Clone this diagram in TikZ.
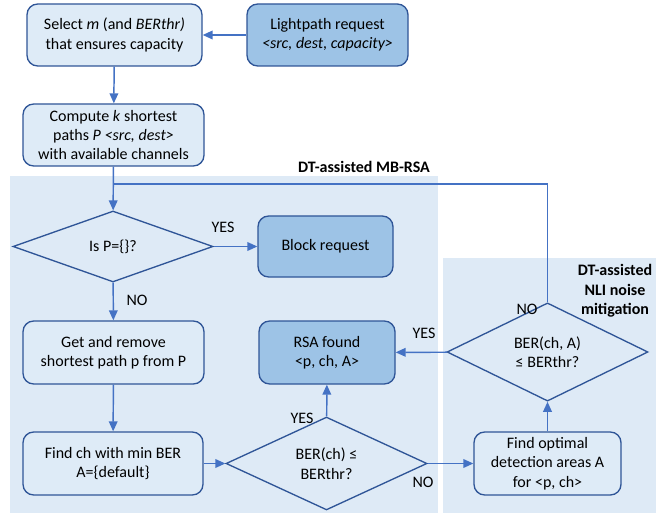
\documentclass[tikz,border=0pt]{standalone}
\usepackage{fontspec}
\setmainfont{Carlito}
\usetikzlibrary{shapes.geometric,arrows.meta}
\definecolor{bord}{HTML}{2F5597}
\definecolor{lfill}{HTML}{DEEBF7}
\definecolor{dfill}{HTML}{9DC3E6}
\definecolor{arr}{HTML}{4472C4}
\definecolor{bgc}{HTML}{DEEAF6}
\begin{document}
\begin{tikzpicture}[x=0.75pt,y=-0.75pt,
  font=\fontsize{12}{14.6}\selectfont,
  lbox/.style={draw=bord,fill=lfill,line width=1pt,rounded corners=8pt,align=center,inner sep=0pt},
  dbox/.style={lbox,fill=dfill},
  dia/.style={draw=bord,diamond,line width=1pt,inner sep=0pt,align=center},
  conn/.style={draw=arr,line width=1.1pt,-{Triangle[length=7.5pt,width=6.5pt]}},
  line/.style={draw=arr,line width=1.1pt},
  lab/.style={inner sep=0pt}]
\useasboundingbox (0,0) rectangle (656,513);
% background regions
\fill[bgc] (10,176) rectangle (438,513);
\fill[bgc] (443,258) rectangle (656,513);
\node[lab,font=\fontsize{12}{14.6}\selectfont\bfseries] (t1) at (364,167) {DT-assisted MB-RSA};
\node[lab,align=center,font=\fontsize{12}{14.6}\selectfont\bfseries] (t2) at (615,291) {DT-assisted\\NLI noise\\mitigation};
% nodes
\node[lbox,minimum width=131.25pt,minimum height=46.5pt] (sel) at (114.5,35) {Select \textit{m} (and \textit{BERthr)}\\that ensures capacity};
\node[dbox,minimum width=120.75pt,minimum height=46.5pt] (req) at (327.5,35) {Lightpath request\\\textit{<src, dest, capacity>}};
\node[lbox,minimum width=135.75pt,minimum height=46.5pt] (comp) at (113.5,135) {Compute \textit{k} shortest\\paths \textit{P <src, dest>}\\with available channels};
\node[dia,minimum width=150pt,minimum height=53.25pt] (d1) at (113,246.5) {Is P=\{\}?};
\node[dbox,minimum width=101.25pt,minimum height=45.75pt] (block) at (325.5,246.5) {Block request};
\node[lbox,minimum width=135.75pt,minimum height=47.25pt] (getp) at (113.5,352.5) {Get and remove\\shortest path p from P};
\node[dbox,minimum width=102pt,minimum height=47.25pt] (rsa) at (327,352.5) {RSA found\\<p, ch, A>};
\node[dia,minimum width=150.75pt,minimum height=52.5pt] (d2) at (547.5,352) {BER(ch, A)\\≤ BERthr?};
\node[lbox,minimum width=135pt,minimum height=47.25pt] (findch) at (113,463.5) {Find ch with min BER\\A=\{default\}};
\node[dia,minimum width=150.75pt,minimum height=53.25pt] (d3) at (326.5,463.5) {BER(ch) ≤\\BERthr?};
\node[lbox,minimum width=110.25pt,minimum height=47.25pt] (findopt) at (547.5,463.5) {Find optimal\\detection areas A\\for <p, ch>};
% connectors
\draw[conn] (req) -- (sel);
\draw[conn] (sel) -- (comp);
\draw[conn] (comp) -- (d1);
\draw[conn] (d1) -- (block);
\draw[conn] (d1) -- (getp);
\draw[conn] (getp) -- (findch);
\draw[conn] (findch) -- (d3);
\draw[conn] (d3) -- (rsa);
\draw[conn] (d3) -- (findopt);
\draw[conn] (findopt) -- (d2);
\draw[conn] (d2) -- (rsa);
\coordinate (j) at (114,184);
\draw[line] (d2.north) |- (j);
% labels
\node[lab] (y1) at (223,227) {YES};
\node[lab] (n1) at (137,300) {NO};
\node[lab] (y2) at (302,418) {YES};
\node[lab] (n2) at (423,482) {NO};
\node[lab] (y3) at (424,333) {YES};
\node[lab] (n3) at (527,309) {NO};
\end{tikzpicture}
\end{document}
